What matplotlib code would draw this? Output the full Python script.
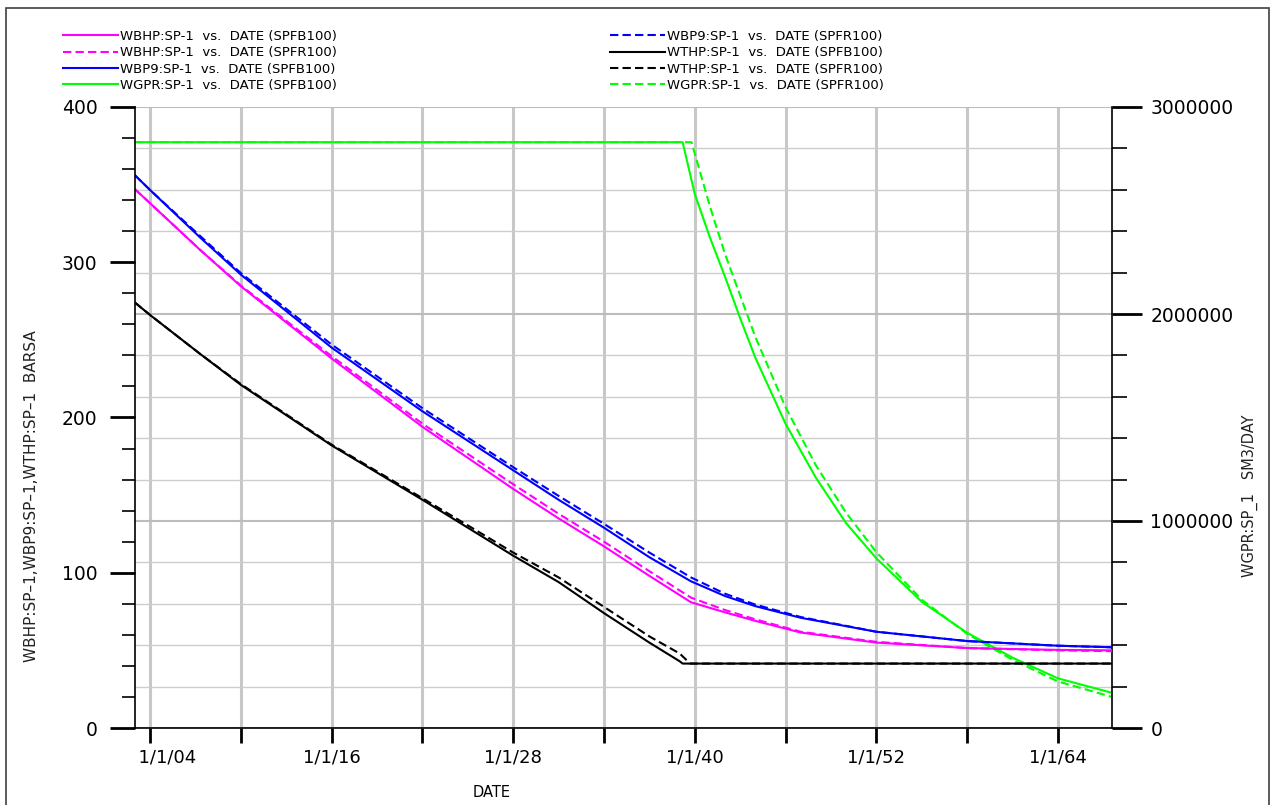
import numpy as np
import pandas as pd
import matplotlib
matplotlib.use('Agg')
import matplotlib.pyplot as plt
import matplotlib.dates as mdates
from matplotlib.ticker import MultipleLocator, FuncFormatter
from matplotlib.patches import Rectangle

# pressure curves (BARSA)
press_dates = ['2003-01-01', '2004-01-01', '2007-04-20', '2010-01-01', '2016-01-01',
               '2022-01-01', '2028-01-01', '2031-01-01', '2034-01-01', '2037-01-01',
               '2039-10-01', '2042-01-01', '2044-01-01', '2047-01-01', '2052-01-01',
               '2058-01-01', '2064-01-01', '2067-08-01']
wbp9_b = [356, 346.5, 316, 292, 245, 204, 166, 147, 129, 110, 94.5, 85, 78.5, 71, 62, 56, 53, 52]
wbp9_r = [356, 346.5, 317, 293, 247, 206, 168, 149.5, 131.5, 113, 97, 86.5, 79.5, 71.5, 62, 56, 53, 52]
wbhp_b = [347, 338, 308, 284.5, 238, 194, 154, 135, 117, 98, 81, 74.5, 69, 61.5, 55, 51.5, 50.3, 50]
wbhp_r = [347, 338, 308, 285, 239.5, 196, 157, 138, 120, 101, 84, 76, 70, 62, 55.5, 51.5, 50, 49.5]

wthp_b_dates = ['2003-01-01', '2004-01-01', '2007-04-20', '2010-01-01', '2016-01-01',
                '2022-01-01', '2028-01-01', '2031-01-01', '2034-01-01', '2037-01-01',
                '2039-01-01', '2039-03-15', '2067-08-01']
wthp_b = [274, 266, 241, 221, 182, 147, 111, 94, 74, 55, 43, 41.5, 41.5]
wthp_r_dates = ['2003-01-01', '2004-01-01', '2007-04-20', '2010-01-01', '2016-01-01',
                '2022-01-01', '2028-01-01', '2031-01-01', '2034-01-01', '2037-01-01',
                '2039-01-01', '2039-09-15', '2067-08-01']
wthp_r = [274, 266, 241, 221.5, 182.5, 148, 113, 97, 78, 59, 48, 41.5, 41.5]

# gas rate (SM3/DAY)
wgpr_b_dates = ['2003-01-01', '2039-03-15', '2040-01-01', '2041-01-01', '2042-01-01',
                '2043-01-01', '2044-01-01', '2046-01-01', '2048-01-01', '2050-01-01',
                '2052-01-01', '2055-01-01', '2058-01-01', '2061-01-01', '2064-01-01',
                '2067-08-01']
wgpr_b = [2830000, 2830000, 2580000, 2370000, 2180000, 1980000, 1790000, 1470000,
          1210000, 990000, 820000, 610000, 460000, 340000, 240000, 170000]
wgpr_r_dates = ['2003-01-01', '2039-10-15', '2041-01-01', '2042-01-01', '2043-01-01',
                '2044-01-01', '2046-01-01', '2048-01-01', '2050-01-01', '2052-01-01',
                '2055-01-01', '2058-01-01', '2061-01-01', '2064-01-01', '2067-08-01']
wgpr_r = [2830000, 2830000, 2520000, 2290000, 2090000, 1890000, 1550000, 1270000,
          1040000, 850000, 620000, 455000, 330000, 225000, 150000]

labels_col1 = ['WBHP:SP-1  vs.  DATE (SPFB100)', 'WBHP:SP-1  vs.  DATE (SPFR100)',
               'WBP9:SP-1  vs.  DATE (SPFB100)', 'WGPR:SP-1  vs.  DATE (SPFB100)']
labels_col2 = ['WBP9:SP-1  vs.  DATE (SPFR100)', 'WTHP:SP-1  vs.  DATE (SPFB100)',
               'WTHP:SP-1  vs.  DATE (SPFR100)', 'WGPR:SP-1  vs.  DATE (SPFR100)']

W, H = 1274, 805
fig = plt.figure(figsize=(W / 100, H / 100), dpi=100)
ax = fig.add_axes([135 / W, 1 - 728 / H, (1112 - 135) / W, (728 - 107) / H])
ax2 = ax.twinx()
ax.set_zorder(ax2.get_zorder() + 1)
ax.patch.set_visible(False)

pd_ = pd.to_datetime(press_dates)
lw = 1.5
dash = (0, (4, 2))
mag, blu, grn = '#ff00ff', '#0000ff', '#00ff00'

h_wbhp_b, = ax.plot(pd_, wbhp_b, color=mag, lw=lw)
h_wbhp_r, = ax.plot(pd_, wbhp_r, color=mag, lw=lw, ls=dash)
h_wbp9_b, = ax.plot(pd_, wbp9_b, color=blu, lw=lw)
h_wbp9_r, = ax.plot(pd_, wbp9_r, color=blu, lw=lw, ls=dash)
h_wthp_b, = ax.plot(pd.to_datetime(wthp_b_dates), wthp_b, color='black', lw=lw)
h_wthp_r, = ax.plot(pd.to_datetime(wthp_r_dates), wthp_r, color='black', lw=lw, ls=dash)
h_wgpr_b, = ax2.plot(pd.to_datetime(wgpr_b_dates), wgpr_b, color=grn, lw=lw)
h_wgpr_r, = ax2.plot(pd.to_datetime(wgpr_r_dates), wgpr_r, color=grn, lw=lw, ls=dash)

ax.set_xlim(pd.Timestamp('2003-01-01'), pd.Timestamp('2067-08-01'))
ax.set_ylim(0, 400)
ax2.set_ylim(0, 3000000)


def date_label(v, pos):
    d = mdates.num2date(v)
    s = f"{d.month}/{d.day}/{d:%y}"
    # the first label sits a bit right of its tick, clear of the y axis
    if v - ax.get_xlim()[0] < 730:
        s = '      ' + s
    return s


# x axis
ax.xaxis.set_major_locator(mdates.YearLocator(12))
ax.xaxis.set_minor_locator(mdates.YearLocator(6))
ax.xaxis.set_major_formatter(FuncFormatter(date_label))
ax.tick_params(axis='x', which='both', length=11, width=2, direction='out',
               labelsize=13, pad=4)

# left axis
ax.yaxis.set_major_locator(MultipleLocator(100))
ax.yaxis.set_minor_locator(MultipleLocator(20))
ax.tick_params(axis='y', which='major', length=18, width=2, labelsize=13.5, pad=9)
ax.tick_params(axis='y', which='minor', length=9.5, width=1.2)

# right axis
ax2.yaxis.set_major_locator(MultipleLocator(1000000))
ax2.yaxis.set_minor_locator(MultipleLocator(200000))
ax2.yaxis.set_major_formatter(FuncFormatter(lambda v, p: f"{v:.0f}"))
ax2.tick_params(axis='y', which='major', length=21.6, width=2, labelsize=13.5, pad=6)
ax2.tick_params(axis='y', which='minor', length=10.8, width=1.2)

# grid lives on the lower axes so the curves sit on top
ax2.xaxis.set_visible(True)
ax2.tick_params(axis='x', which='both', bottom=False, top=False,
                labelbottom=False, labeltop=False)
ax2.grid(axis='x', which='both', color='#c8c8c8', lw=2.2)
ax2.grid(axis='y', which='major', color='#bcbcbc', lw=1.5)
ax2.grid(axis='y', which='minor', color='#cdcdcd', lw=1.0)
ax2.set_axisbelow(True)

for s in ['top', 'right']:
    ax.spines[s].set_visible(False)
for s in ['top', 'left', 'bottom']:
    ax2.spines[s].set_visible(False)
for s in ['left', 'bottom']:
    ax.spines[s].set_linewidth(1.2)
ax2.spines['right'].set_linewidth(1.2)

# axis labels
fig.text(32 / W, 1 - 496 / H, 'WBHP:SP\u20131,WBP9:SP\u20131,WTHP:SP\u20131  BARSA',
         rotation=90, ha='center', va='center', fontsize=11, color='#222222')
fig.text(1250 / W, 1 - 496 / H, 'WGPR:SP_1   SM3/DAY', rotation=90, ha='center',
         va='center', fontsize=10.5, color='#222222')
fig.text(492 / W, 1 - 792 / H, 'DATE', ha='center', va='center', fontsize=10.5)

# legends
leg_kw = dict(loc='upper left', frameon=False, fontsize=9.5, handlelength=4.2,
              handletextpad=0.15, labelspacing=0.25, borderpad=0, borderaxespad=0)
leg1 = fig.legend([h_wbhp_b, h_wbhp_r, h_wbp9_b, h_wgpr_b], labels_col1,
                  bbox_to_anchor=(63 / W, 1 - 30 / H), **leg_kw)
leg2 = fig.legend([h_wbp9_r, h_wthp_b, h_wthp_r, h_wgpr_r], labels_col2,
                  bbox_to_anchor=(610 / W, 1 - 30 / H), **leg_kw)

# outer frame
fig.add_artist(Rectangle((6 / W, -0.02), (1269 - 6) / W, 1.015 - 4 / H,
                         transform=fig.transFigure, fill=False, ec='#404040',
                         lw=1.2, clip_on=False))

fig.savefig('out.png', dpi=100)
